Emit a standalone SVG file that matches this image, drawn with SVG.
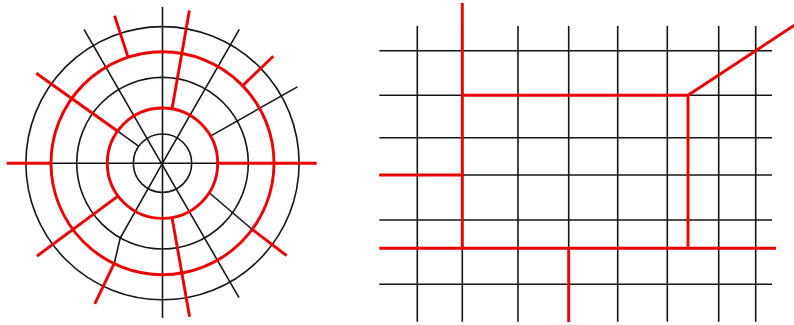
<svg xmlns="http://www.w3.org/2000/svg" width="794" height="325" viewBox="0 0 794 325">
<style>
.k{fill:none;stroke:#151515;stroke-width:1.6}
.r{fill:none;stroke:#ec0000;stroke-width:2.9}
</style>
<rect width="794" height="325" fill="#fff"/>
<g id="radial">
<g id="radial-black">
<circle class="k" cx="162.5" cy="163.2" r="29.2"/>
<circle class="k" cx="162.5" cy="163.2" r="85.8"/>
<circle class="k" cx="162.5" cy="163.2" r="136.6"/>
<line class="k" x1="162.5" y1="7" x2="162.5" y2="318"/>
<line class="k" x1="50.5" y1="163.2" x2="217.7" y2="163.2"/>
<line class="k" x1="84" y1="29.3" x2="239" y2="297.7"/>
<polyline class="k" points="239.3,29.3 162.5,163.2 120.2,238 114.3,263.2"/>
<line class="k" x1="138.9" y1="146.4" x2="117.7" y2="131.2"/>
<line class="k" x1="210.4" y1="136.1" x2="297.4" y2="86.9"/>
<polyline class="k" points="209.5,193 251.7,229"/>
</g>
<g id="radial-red">
<circle class="r" cx="162.5" cy="163.2" r="55.2"/>
<circle class="r" cx="162.5" cy="163.2" r="111.5"/>
<line class="r" x1="6.7" y1="163.2" x2="51" y2="163.2"/>
<line class="r" x1="217.7" y1="163.2" x2="316.7" y2="163.2"/>
<line class="r" x1="114.3" y1="263.2" x2="94.8" y2="303.8"/>
<line class="r" x1="128.2" y1="57.6" x2="114.6" y2="15.8"/>
<line class="r" x1="117.7" y1="131.2" x2="36.3" y2="73.2"/>
<line class="r" x1="172" y1="109" x2="189.4" y2="10.5"/>
<line class="r" x1="242.3" y1="86" x2="273.3" y2="56.2"/>
<line class="r" x1="118.3" y1="195.9" x2="37.1" y2="256"/>
<line class="r" x1="251.7" y1="229" x2="286.7" y2="255.7"/>
<line class="r" x1="172" y1="217.4" x2="189.6" y2="316.8"/>
</g>
</g>
<g id="grid">
<g id="grid-black">
<line class="k" x1="379.3" y1="50.7" x2="772" y2="50.7"/>
<line class="k" x1="379.3" y1="95.3" x2="772" y2="95.3"/>
<line class="k" x1="379.3" y1="137.7" x2="772" y2="137.7"/>
<line class="k" x1="379.3" y1="175" x2="772" y2="175"/>
<line class="k" x1="379.3" y1="220" x2="772" y2="220"/>
<line class="k" x1="379.3" y1="284.3" x2="772" y2="284.3"/>
<line class="k" x1="417.3" y1="26" x2="417.3" y2="321.7"/>
<line class="k" x1="462.3" y1="26" x2="462.3" y2="321.7"/>
<line class="k" x1="518" y1="26" x2="518" y2="321.7"/>
<line class="k" x1="568.7" y1="26" x2="568.7" y2="321.7"/>
<line class="k" x1="617.7" y1="26" x2="617.7" y2="321.7"/>
<line class="k" x1="667.3" y1="26" x2="667.3" y2="321.7"/>
<line class="k" x1="718.7" y1="26" x2="718.7" y2="321.7"/>
<line class="k" x1="755.7" y1="26" x2="755.7" y2="321.7"/>
</g>
<g id="grid-red">
<line class="r" x1="462.3" y1="3" x2="462.3" y2="248.3"/>
<polyline class="r" points="462.3,95.3 688,95.3 688,248.3"/>
<line class="r" x1="688" y1="95.3" x2="800" y2="21.5"/>
<line class="r" x1="379.3" y1="175" x2="462.3" y2="175"/>
<line class="r" x1="379.3" y1="248.3" x2="776" y2="248.3"/>
<line class="r" x1="568.7" y1="248.3" x2="568.7" y2="322"/>
</g>
</g>
</svg>
